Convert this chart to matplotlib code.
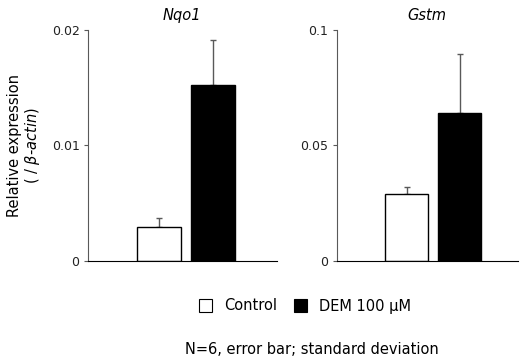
import matplotlib
matplotlib.use("Agg")
from matplotlib import pyplot as plt
from matplotlib.patches import Patch
import numpy as np

genes = ["Nqo1", "Gstm"]
groups = ["Control", "DEM 100 μM"]
means = {"Nqo1": [0.0029, 0.0152], "Gstm": [0.029, 0.064]}
sds = {"Nqo1": [0.0008, 0.0039], "Gstm": [0.003, 0.0256]}
ymax = {"Nqo1": 0.02, "Gstm": 0.1}
yticks = {"Nqo1": [0, 0.01, 0.02], "Gstm": [0, 0.05, 0.1]}
yticklabels = {"Nqo1": ["0", "0.01", "0.02"], "Gstm": ["0", "0.05", "0.1"]}
colors = ["white", "black"]

plt.rcParams['font.family'] = 'DejaVu Sans'
plt.rcParams['mathtext.fontset'] = 'custom'
plt.rcParams['mathtext.it'] = 'DejaVu Sans:italic'
plt.rcParams['mathtext.rm'] = 'DejaVu Sans'

fig = plt.figure(figsize=(5.23, 3.64), dpi=100)
boxes = [[0.168, 0.283, 0.361, 0.635], [0.644, 0.283, 0.346, 0.635]]
grey = "#595959"

for g, box in zip(genes, boxes):
	ax = fig.add_axes(box)
	x = np.arange(2)
	ax.bar(x, means[g], width=0.81, color=colors, edgecolor="black", linewidth=1, zorder=2)
	ax.errorbar(x, means[g], yerr=[[0, 0], sds[g]], fmt="none", ecolor=grey,
		elinewidth=1, capsize=2, capthick=1, zorder=1)
	ax.set_xlim(-1.32, 2.17 if g == "Nqo1" else 2.1)
	ax.set_ylim(0, ymax[g])
	ax.set_yticks(yticks[g])
	ax.set_yticklabels(yticklabels[g], fontsize=9, color="#222222")
	ax.set_xticks([])
	for s in ["top", "right"]:
		ax.spines[s].set_visible(False)
	ax.spines["left"].set_color(grey)
	ax.spines["bottom"].set_color("black")
	ax.tick_params(axis="y", length=3, color=grey, pad=3)
	ax.set_title(g, style="italic", fontsize=10.5, pad=7)
	if g == "Nqo1":
		ax.set_ylabel("Relative expression\n( / $\\it{\\beta}$-$\\it{actin}$)", fontsize=10.5,
			labelpad=7, linespacing=1.1)

handles = [Patch(facecolor=c, edgecolor="black", linewidth=0.8) for c in colors]
fig.legend(handles, groups, loc="center", bbox_to_anchor=(0.583, 1 - 306/364), ncol=2,
	frameon=False, fontsize=10.5, handlelength=0.9, handleheight=0.9, columnspacing=1.2, handletextpad=0.8)
fig.text(0.597, 1 - 349/364, "N=6, error bar; standard deviation", ha="center", va="center", fontsize=10.5)

fig.savefig("out.png", dpi=100)
